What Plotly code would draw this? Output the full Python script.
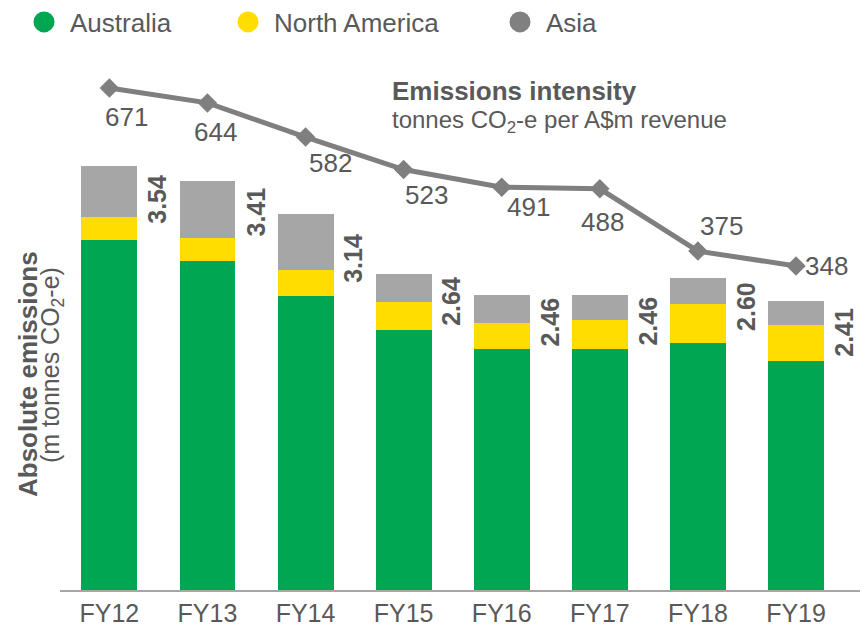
import plotly.graph_objects as go

categories = ["FY12", "FY13", "FY14", "FY15", "FY16", "FY17", "FY18", "FY19"]
australia = [2.92, 2.75, 2.45, 2.17, 2.01, 2.01, 2.06, 1.91]
north_america = [0.19, 0.19, 0.22, 0.23, 0.22, 0.24, 0.33, 0.30]
asia = [0.43, 0.47, 0.47, 0.24, 0.23, 0.21, 0.21, 0.20]
totals = [3.54, 3.41, 3.14, 2.64, 2.46, 2.46, 2.60, 2.41]
intensity = [671, 644, 582, 523, 491, 488, 375, 348]

GREEN = "#00A651"
YELLOW = "#FFDD00"
GREY_BAR = "#A6A6A6"
GREY_LEG = "#808080"
LINE = "#7F7F7F"
TEXT = "#595959"
FONT = "Liberation Sans, Arial, sans-serif"

W, H = 865, 633
ML, MR, MT, MB = 60, 5, 70, 43
PW, PH = W - ML - MR, H - MT - MB


def px(x):
    return (x - ML) / PW


def py(y):
    return (H - MB - y) / PH


fig = go.Figure()

for name, vals, col in [("Australia", australia, GREEN),
                        ("North America", north_america, YELLOW),
                        ("Asia", asia, GREY_BAR)]:
    fig.add_trace(go.Bar(x=categories, y=vals, name=name, marker_color=col,
                         marker_line_width=0, showlegend=False))

fig.add_trace(go.Scatter(x=categories, y=intensity, yaxis="y2", mode="lines+markers",
                         line=dict(color=LINE, width=5),
                         marker=dict(symbol="diamond", size=15, color=LINE),
                         showlegend=False))

# legend entries (circle markers), one legend each for placement
for i, (name, col) in enumerate([("Australia", GREEN),
                                 ("North America", YELLOW),
                                 ("Asia", GREY_LEG)]):
    fig.add_trace(go.Scatter(x=[None], y=[None], mode="markers", name=name,
                             marker=dict(symbol="circle", size=16, color=col,
                                         line=dict(color=col, width=5)),
                             legend="legend" if i == 0 else f"legend{i+1}"))

legend_common = dict(orientation="h", xref="container", yref="container",
                     yanchor="middle", xanchor="left", y=1 - 22 / H,
                     font=dict(family=FONT, size=26, color=TEXT),
                     bgcolor="rgba(0,0,0,0)", itemsizing="trace", itemwidth=42)

annotations = []
# total labels (rotated)
yshifts = [-7, -4, -18, -1, 0, 1, -1, -5]
for c, t, ys in zip(categories, totals, yshifts):
    annotations.append(dict(x=c, y=t, xref="x", yref="y", text=f"<b>{t:.2f}</b>",
                            textangle=-90, showarrow=False, xanchor="center",
                            yanchor="top", xshift=48, yshift=ys,
                            font=dict(family=FONT, size=25, color=TEXT)))
# intensity labels
offs = [(17, -29), (8, -29), (25, -26), (23, -25), (27, -20), (3, -33), (24, 25), (30, 0)]
for c, v, (dx, dy) in zip(categories, intensity, offs):
    annotations.append(dict(x=c, y=v, xref="x", yref="y2", text=str(v),
                            showarrow=False, xanchor="center", yanchor="middle",
                            xshift=dx, yshift=dy,
                            font=dict(family=FONT, size=26, color=TEXT)))
# intensity title
annotations.append(dict(x=px(390), y=py(91), xref="paper", yref="paper",
                        text="<b>Emissions intensity</b>", showarrow=False,
                        xanchor="left", yanchor="middle",
                        font=dict(family=FONT, size=26, color=TEXT)))
annotations.append(dict(x=px(390), y=py(122), xref="paper", yref="paper",
                        text="tonnes CO<sub>2</sub>-e per A$m revenue", showarrow=False,
                        xanchor="left", yanchor="middle",
                        font=dict(family=FONT, size=24, color=TEXT)))
# y axis titles
annotations.append(dict(x=px(28), y=py(374), xref="paper", yref="paper",
                        text="<b>Absolute emissions</b>", textangle=-90, showarrow=False,
                        xanchor="center", yanchor="middle",
                        font=dict(family=FONT, size=26, color=TEXT)))
annotations.append(dict(x=px(52), y=py(365), xref="paper", yref="paper",
                        text="(m tonnes CO<sub>2</sub>-e)", textangle=-90, showarrow=False,
                        xanchor="center", yanchor="middle",
                        font=dict(family=FONT, size=25, color=TEXT)))

fig.update_layout(
    width=W, height=H,
    margin=dict(l=ML, r=MR, t=MT, b=MB, autoexpand=False),
    paper_bgcolor="white", plot_bgcolor="white",
    barmode="stack", bargap=0.43,
    font=dict(family=FONT, color=TEXT),
    xaxis=dict(showline=True, linecolor="#A6A6A6", linewidth=2, ticks="",
               showgrid=False, zeroline=False,
               tickfont=dict(family=FONT, size=25, color=TEXT)),
    yaxis=dict(range=[0, 4.34], visible=False, showgrid=False, zeroline=False),
    yaxis2=dict(range=[-240.1, 703.7], overlaying="y", visible=False,
                showgrid=False, zeroline=False),
    legend=dict(legend_common, x=18 / W),
    legend2=dict(legend_common, x=222 / W),
    legend3=dict(legend_common, x=494 / W),
    annotations=annotations,
)

fig.write_html("out.html", config={"displayModeBar": False},
               post_script="document.body.style.margin='0px';"
                           "document.body.style.overflow='hidden';")
